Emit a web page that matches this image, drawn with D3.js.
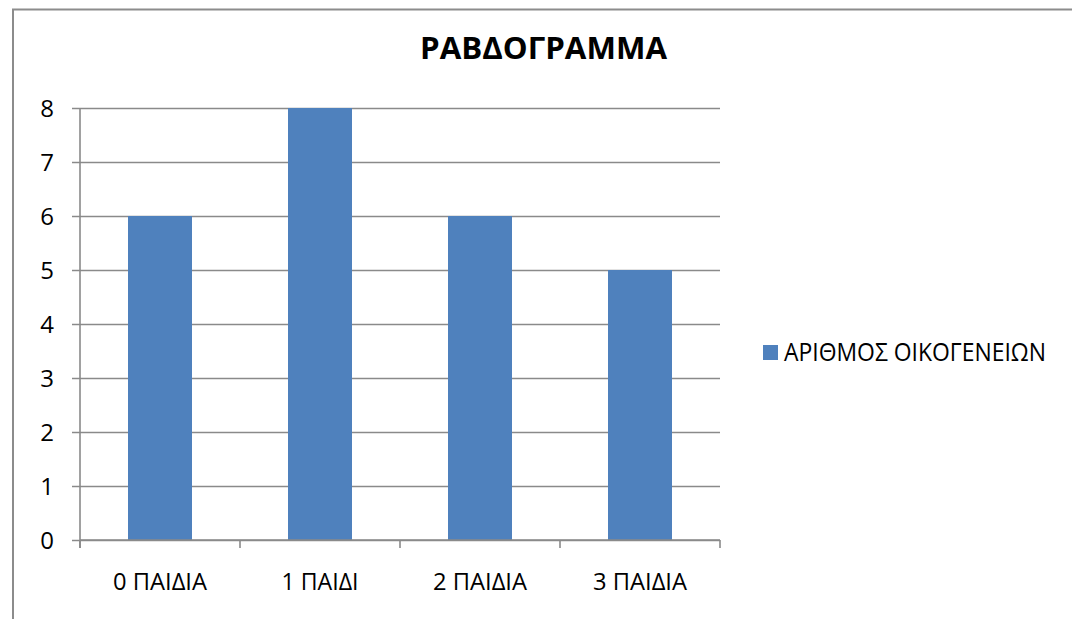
<!DOCTYPE html>
<html>
<head>
<meta charset="utf-8">
<script src="https://cdn.jsdelivr.net/npm/d3@7"></script>
<style>
  html, body { margin: 0; padding: 0; background: #ffffff; }
  svg { display: block; font-family: "Open Sans", "Noto Sans", sans-serif; }
</style>
</head>
<body>
<svg id="chart" width="1072" height="619"></svg>
<script>
const title = "ΡΑΒΔΟΓΡΑΜΜΑ";
const categories = ["0 ΠΑΙΔΙΑ", "1 ΠΑΙΔΙ", "2 ΠΑΙΔΙΑ", "3 ΠΑΙΔΙΑ"];
const seriesName = "ΑΡΙΘΜΟΣ ΟΙΚΟΓΕΝΕΙΩΝ";
const values = [6, 8, 6, 5];
const yTicks = [0, 1, 2, 3, 4, 5, 6, 7, 8];

const svg = d3.select("#chart");
const barColor = "#4f81bd";
const gridColor = "#8a8a8a";

// outer frame (left and top edges visible)
svg.append("path")
  .attr("d", "M13,619 L13,9.5 L1072,9.5")
  .attr("fill", "none").attr("stroke", "#8c8c8c").attr("stroke-width", 2);

const plot = { left: 80, right: 720, top: 108, bottom: 540 };

const x = d3.scaleBand().domain(categories)
  .range([plot.left, plot.right]).paddingInner(0.6).paddingOuter(0.3);
const y = d3.scaleLinear().domain([0, 8]).range([plot.bottom, plot.top]);

// gridlines + y ticks
const yAxis = d3.axisLeft(y).tickValues(yTicks).tickSize(-(plot.right - plot.left)).tickPadding(0).tickFormat("");
const gy = svg.append("g").attr("transform", `translate(${plot.left},0)`).call(yAxis);
gy.select(".domain").remove();
gy.selectAll(".tick line").attr("stroke", gridColor).attr("stroke-width", 1.6).attr("x1", -8);

// y labels
svg.append("g").selectAll("text").data(yTicks).join("text")
  .attr("x", 54).attr("y", d => y(d))
  .attr("dy", "0.36em")
  .attr("text-anchor", "end")
  .attr("font-size", 24).attr("fill", "#000")
  .text(d => d);

// bars
svg.append("g").selectAll("rect").data(values).join("rect")
  .attr("x", (d, i) => x(categories[i]))
  .attr("y", d => y(d))
  .attr("width", x.bandwidth())
  .attr("height", d => y(0) - y(d))
  .attr("fill", barColor);

// y axis line
svg.append("line")
  .attr("x1", plot.left).attr("x2", plot.left)
  .attr("y1", plot.top).attr("y2", plot.bottom + 8)
  .attr("stroke", gridColor).attr("stroke-width", 1.6);

// x axis line and category boundary ticks
svg.append("line")
  .attr("x1", plot.left).attr("x2", plot.right)
  .attr("y1", plot.bottom).attr("y2", plot.bottom)
  .attr("stroke", gridColor).attr("stroke-width", 1.6);
const boundaries = d3.range(categories.length + 1).map(i => plot.left + i * (plot.right - plot.left) / categories.length);
svg.append("g").selectAll("line").data(boundaries).join("line")
  .attr("x1", d => d).attr("x2", d => d)
  .attr("y1", plot.bottom).attr("y2", plot.bottom + 8)
  .attr("stroke", gridColor).attr("stroke-width", 1.6);

// x labels (scaled to reference widths)
const xLabelWidth = { "0 ΠΑΙΔΙΑ": 94, "1 ΠΑΙΔΙ": 77, "2 ΠΑΙΔΙΑ": 94, "3 ΠΑΙΔΙΑ": 94 };
svg.append("g").selectAll("text").data(categories).join("text")
  .attr("x", d => x(d) + x.bandwidth() / 2)
  .attr("y", 590)
  .attr("text-anchor", "middle")
  .attr("font-size", 24).attr("fill", "#000")
  .attr("textLength", d => xLabelWidth[d]).attr("lengthAdjust", "spacingAndGlyphs")
  .text(d => d);

// title
svg.append("text")
  .attr("x", 543.5).attr("y", 59)
  .attr("text-anchor", "middle")
  .attr("font-size", 31).attr("font-weight", "bold").attr("fill", "#000")
  .attr("textLength", 247).attr("lengthAdjust", "spacingAndGlyphs")
  .text(title);

// legend
const lg = svg.append("g");
lg.append("rect").attr("x", 763).attr("y", 345).attr("width", 15).attr("height", 15).attr("fill", barColor);
lg.append("text").attr("x", 784).attr("y", 360.5)
  .attr("font-size", 25).attr("fill", "#000")
  .attr("textLength", 262).attr("lengthAdjust", "spacingAndGlyphs")
  .text(seriesName);
</script>
</body>
</html>
